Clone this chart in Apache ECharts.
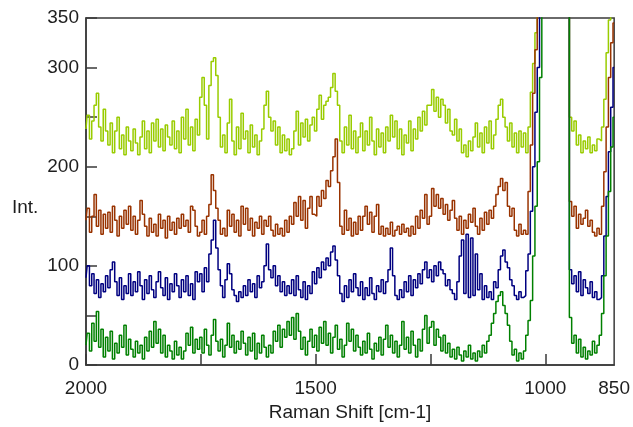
<!DOCTYPE html>
<html>
<head>
<meta charset="utf-8">
<title>Raman spectra</title>
<script src="https://cdn.jsdelivr.net/npm/echarts@6.0.0/dist/echarts.min.js"></script>
<style>
  html, body { margin: 0; padding: 0; background: #fff; }
  #chart { width: 633px; height: 427px; }
</style>
</head>
<body>
<div id="chart"></div>
<script>
// Raman shift, 2000 -> 850 cm-1, sampled every 5 cm-1
const shifts = [];
for (let v = 2000; v >= 850; v -= 5) {
    shifts.push(v);
}

const xLabelValues = [2000, 1500, 1000, 850];
const xTickValues = [2000, 1750, 1500, 1250, 1000];
const yLabelValues = [0, 100, 200, 300, 350];
const yTickValues = [0, 50, 100, 150, 200, 250, 300, 350];

// 10 values per 50 cm-1
const limeTrace = [
    238, 252, 228, 246, 262, 274, 240, 226, 258, 236,
    222, 244, 214, 236, 250, 218, 232, 212, 240, 226,
    216, 238, 224, 212, 230, 246, 218, 236, 214, 244,
    226, 248, 220, 238, 216, 242, 230, 222, 246, 218,
    236, 214, 250, 228, 258, 222, 240, 216, 248, 232,
    270, 290, 262, 228, 282, 306, 310, 292, 250, 220,
    232, 214, 244, 268, 226, 212, 240, 218, 254, 228,
    236, 214, 242, 220, 232, 212, 226, 238, 262, 276,
    250, 236, 246, 222, 240, 214, 232, 216, 228, 212,
    218, 236, 256, 222, 244, 230, 248, 226, 242, 250,
    236, 258, 272, 248, 262, 266, 270, 280, 294, 276,
    262, 226, 214, 240, 222, 252, 218, 236, 214, 230,
    244, 216, 236, 222, 250, 226, 212, 238, 220, 234,
    214, 240, 226, 252, 230, 246, 218, 238, 212, 232,
    224, 246, 216, 238, 228, 250, 236, 256, 242, 262,
    262, 278, 256, 270, 250, 268, 262, 244, 258, 236,
    232, 248, 226, 238, 214, 222, 210, 226, 216, 230,
    244, 220, 234, 214, 240, 224, 246, 218, 232, 248,
    262, 268, 250, 240, 226, 244, 220, 234, 214, 236,
    220, 234, 214, 240, 275, 304, 335, 365, 420, 480,
    520, 540, 550, 560, 560, 550, 540, 520, 480, 420,
    370, 250, 236, 246, 222, 232, 214, 226, 218, 230,
    214, 222, 216, 228, 226, 240, 268, 315, 348, 400,
    450
];

const brownTrace = [
    146, 158, 134, 150, 172, 140, 156, 132, 152, 138,
    154, 134, 160, 146, 130, 150, 138, 156, 142, 160,
    136, 150, 132, 146, 166, 152, 140, 130, 148, 134,
    142, 130, 152, 138, 146, 128, 150, 136, 144, 132,
    148, 138, 152, 140, 146, 134, 160, 156, 140, 130,
    134, 146, 132, 150, 162, 192, 176, 158, 146, 132,
    138, 130, 156, 140, 152, 134, 146, 130, 160, 142,
    158, 136, 148, 130, 144, 138, 150, 132, 146, 140,
    150, 136, 130, 142, 132, 138, 130, 146, 134, 150,
    142, 164, 150, 170, 146, 166, 138, 158, 170, 152,
    150, 170, 160, 176, 168, 186, 180, 196, 210, 228,
    184, 140, 132, 156, 136, 148, 130, 144, 132, 150,
    136, 150, 160, 142, 154, 134, 150, 162, 132, 140,
    130, 138, 132, 144, 130, 136, 140, 132, 142, 134,
    138, 130, 140, 132, 150, 138, 156, 148, 172, 142,
    150, 178, 160, 172, 158, 168, 152, 162, 146, 156,
    166, 148, 136, 150, 132, 146, 138, 152, 144, 158,
    140, 132, 148, 136, 154, 142, 156, 148, 160, 172,
    180, 188, 176, 184, 160, 150, 158, 136, 130, 142,
    132, 136, 132, 175, 222, 274, 318, 352, 410, 470,
    520, 540, 550, 560, 560, 550, 540, 520, 480, 420,
    370, 165, 150, 160, 138, 152, 142, 148, 156, 140,
    146, 134, 130, 138, 132, 160, 195, 240, 290, 325,
    345
];

const navyTrace = [
    88, 100, 80, 92, 72, 86, 68, 82, 74, 90,
    78, 96, 104, 84, 70, 88, 66, 80, 72, 92,
    70, 84, 74, 94, 80, 66, 86, 72, 90, 76,
    68, 84, 94, 78, 70, 88, 66, 82, 74, 92,
    80, 68, 86, 74, 90, 70, 82, 66, 94, 84,
    92, 74, 98, 84, 112, 126, 146, 118, 96, 80,
    68, 86, 102, 92, 76, 70, 64, 74, 68, 80,
    70, 86, 74, 82, 68, 90, 78, 84, 100, 122,
    96, 88, 100, 80, 90, 74, 84, 70, 80, 72,
    86, 70, 90, 76, 68, 84, 66, 80, 72, 94,
    82, 98, 88, 104, 96, 108, 100, 114, 120, 106,
    90, 72, 64, 80, 68, 86, 74, 92, 78, 70,
    84, 66, 78, 70, 88, 72, 66, 80, 74, 86,
    72, 84, 96, 118, 90, 70, 66, 76, 68, 84,
    74, 90, 70, 86, 78, 92, 82, 96, 104, 88,
    96, 84, 100, 90, 104, 96, 92, 80, 86, 76,
    72, 66, 84, 110, 126, 72, 132, 68, 128, 70,
    112, 76, 92, 66, 80, 68, 74, 66, 84, 78,
    96, 110, 116, 104, 98, 86, 80, 70, 66, 74,
    68, 70, 95, 112, 155, 200, 255, 300, 360, 430,
    520, 540, 550, 560, 560, 550, 540, 520, 480, 420,
    370, 96, 82, 90, 74, 94, 70, 86, 78, 72,
    84, 68, 74, 66, 68, 90, 130, 170, 215, 260,
    300
];

const greenTrace = [
    20, 32, 14, 42, 24, 54, 18, 36, 8, 28,
    14, 34, 6, 22, 12, 30, 18, 40, 10, 26,
    16, 8, 24, 12, 20, 6, 28, 14, 34, 18,
    44, 22, 36, 12, 30, 8, 20, 14, 6, 24,
    10, 18, 6, 14, 32, 20, 38, 12, 26, 16,
    28, 12, 36, 20, 10, 30, 46, 24, 14, 26,
    8, 20, 42, 18, 30, 12, 24, 16, 34, 22,
    10, 28, 14, 32, 6, 22, 12, 30, 18, 8,
    20, 12, 34, 24, 40, 18, 36, 28, 44, 30,
    48, 26, 52, 34, 16, 28, 10, 24, 36, 18,
    30, 14, 38, 22, 44, 20, 32, 12, 28, 40,
    16, 26, 8, 20, 42, 24, 36, 14, 30, 18,
    10, 24, 12, 32, 16, 6, 22, 14, 28, 10,
    26, 40, 18, 30, 12, 24, 8, 20, 44, 16,
    28, 12, 34, 20, 8, 26, 14, 36, 50, 22,
    38, 44, 20, 36, 28, 14, 30, 12, 22, 8,
    16, 6, 18, 10, 4, 14, 8, 20, 6, 12,
    4, 14, 8, 20, 12, 24, 30, 42, 52, 64,
    70, 74, 60, 52, 40, 24, 10, 16, 4, 12,
    6, 14, 30, 45, 65, 110, 160, 205, 290, 380,
    520, 540, 550, 560, 560, 550, 540, 520, 480, 420,
    370, 48, 22, 30, 12, 26, 8, 18, 6, 14,
    10, 24, 12, 20, 30, 52, 90, 130, 175, 220,
    250
];

const font = 'Arial, "Liberation Sans", sans-serif';
const inkColor = '#1e1e1e';
const frameColor = '#3a3a3a';

function trace(values, color) {
    return {
        type: 'line',
        data: values.map((y, i) => [shifts[i], y]),
        step: 'middle',
        symbol: 'none',
        clip: true,
        silent: true,
        lineStyle: { color: color, width: 1.5 },
        itemStyle: { color: color }
    };
}

const chart = echarts.init(document.getElementById('chart'));
chart.setOption({
    animation: false,
    backgroundColor: '#fff',
    grid: {
        left: 86, right: 17, top: 18, bottom: 61,
        show: true, borderColor: frameColor, borderWidth: 1.5
    },
    graphic: [{
        type: 'text',
        left: 12, top: 198,
        style: { text: 'Int.', font: '19px ' + font, fill: inkColor }
    }],
    xAxis: {
        type: 'value',
        min: 850, max: 2000,
        inverse: true,
        name: 'Raman Shift [cm-1]',
        nameLocation: 'middle',
        nameGap: 38,
        nameTextStyle: { fontFamily: font, fontSize: 19, color: inkColor },
        axisLine: { lineStyle: { color: frameColor, width: 1.5 } },
        axisTick: {
            inside: true, length: 11, customValues: xTickValues,
            lineStyle: { color: frameColor, width: 1.5 }
        },
        axisLabel: {
            customValues: xLabelValues, margin: 14,
            formatter: v => String(v),
            fontFamily: font, fontSize: 19, color: inkColor
        },
        splitLine: { show: false }
    },
    yAxis: {
        type: 'value',
        min: 0, max: 350,
        axisLine: { show: true, lineStyle: { color: frameColor, width: 1.5 } },
        axisTick: {
            show: true, inside: true, length: 11, customValues: yTickValues,
            lineStyle: { color: frameColor, width: 1.5 }
        },
        axisLabel: {
            customValues: yLabelValues, margin: 7,
            formatter: v => String(v),
            fontFamily: font, fontSize: 19, color: inkColor
        },
        splitLine: { show: false }
    },
    series: [
        trace(limeTrace, '#99cc00'),
        trace(brownTrace, '#993300'),
        trace(navyTrace, '#000080'),
        trace(greenTrace, '#008000')
    ]
});
</script>
</body>
</html>
